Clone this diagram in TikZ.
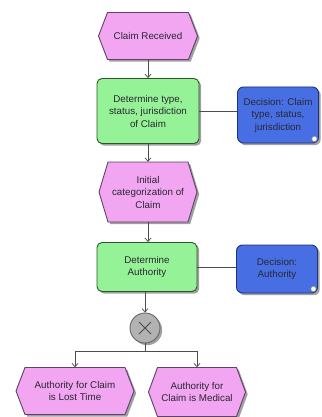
\documentclass[tikz,border=0pt]{standalone}
\usepackage{fontspec}
\setmainfont{Liberation Sans}
\usetikzlibrary{arrows.meta,shadows,calc}
\definecolor{evfill}{RGB}{242,165,240}
\definecolor{evdraw}{RGB}{95,65,105}
\definecolor{fnfill}{RGB}{150,242,150}
\definecolor{fndraw}{RGB}{45,85,45}
\definecolor{dcfill}{RGB}{72,110,228}
\definecolor{dcdraw}{RGB}{30,50,125}
\definecolor{xfill}{RGB}{178,178,178}
\definecolor{shd}{RGB}{160,160,160}
\definecolor{txtc}{RGB}{40,40,50}
\newcommand\myevent[6]{%
  \path[evshape] ({#2-#4/2},#3) -- ({#2-#4/2+9},{#3-#5/2}) -- ({#2+#4/2-9},{#3-#5/2})
     -- ({#2+#4/2},#3) -- ({#2+#4/2-9},{#3+#5/2}) -- ({#2-#4/2+9},{#3+#5/2}) -- cycle;
  \node[txt, minimum width=#4-18, minimum height=#5, inner sep=0pt] (#1) at (#2,#3) {#6};}
\begin{document}
\begin{tikzpicture}[x=1pt,y=-1pt,
  txt/.style={font=\fontsize{9.8}{12.5}\selectfont, align=center, text=txtc},
  shad/.style={drop shadow={shadow xshift=2.2pt, shadow yshift=-2.2pt, fill=shd, opacity=1}},
  evshape/.style={shad, fill=evfill, draw=evdraw, line width=0.9pt, line join=miter},
  fnbox/.style={txt, shad, fill=fnfill, draw=fndraw, line width=0.9pt, rounded corners=5pt, inner sep=0pt},
  dcbox/.style={txt, shad, fill=dcfill, draw=dcdraw, line width=0.9pt, rounded corners=6pt, inner sep=0pt},
  xorc/.style={circle, shad, fill=xfill, draw=black!60, line width=0.9pt, minimum size=30pt, inner sep=0pt},
  conn/.style={draw=black!70, line width=0.7pt},
  arr/.style={conn, -{Straight Barb[length=3.5pt,width=6pt]}}
]
\useasboundingbox (0,0) rectangle (321,417);
\fill[white] (0,0) rectangle (321,417);

\myevent{e1}{148}{36}{99}{47}{Claim Received}
\node[fnbox, minimum width=102pt, minimum height=65pt] (g1) at (148,111) {Determine type,\\ status, jurisdiction\\ of Claim};
\node[dcbox, minimum width=81pt, minimum height=56pt] (d1) at (278,115) {Decision: Claim\\ type, status,\\ jurisdiction};
\myevent{e2}{148}{192}{98}{60}{Initial\\ categorization of\\ Claim}
\node[fnbox, minimum width=100pt, minimum height=49pt] (g2) at (147,267) {Determine\\ Authority};
\node[dcbox, minimum width=81pt, minimum height=48pt] (d2) at (277,269) {Decision:\\ Authority};
\node[xorc] (x) at (145,328) {};
\myevent{eL}{75}{391}{118}{47}{Authority for Claim\\ is Lost Time}
\myevent{eR}{197}{392}{97}{49}{Authority for\\ Claim is Medical}

% decision markers
\foreach \d in {d1,d2}{
  \draw[fill=white, draw=black!40, line width=0.5pt] ($(\d.south east)+(-4.5,-4.5)$) circle (2.6pt);
}
% xor cross
\draw[black!70, line width=0.9pt] ($(x.center)+(-6,-6)$) -- ($(x.center)+(6,6)$)
  ($(x.center)+(-6,6)$) -- ($(x.center)+(6,-6)$);

% connectors
\draw[arr] (e1.south) -- (g1.north);
\draw[conn] (g1.east) -- (g1.east -| d1.west);
\draw[arr] (g1.south) -- (e2.north);
\draw[arr] (e2.south) -- (g2.north -| e2.south);
\draw[conn] (g2.east) -- (g2.east -| d2.west);
\draw[arr] (g2.south -| x.north) -- (x.north);
\coordinate (jn) at (145,351);
\draw[conn] (x.south) -- (jn);
\draw[arr] (jn) -| (eL.north);
\draw[arr] (jn) -| (eR.north);
\end{tikzpicture}
\end{document}
